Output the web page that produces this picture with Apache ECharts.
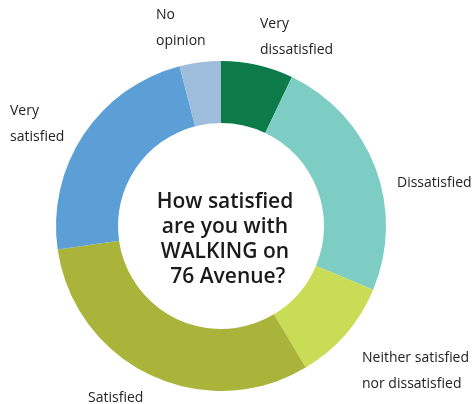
<!DOCTYPE html>
<html>
<head>
<meta charset="utf-8">
<script src="https://cdn.jsdelivr.net/npm/echarts@6/dist/echarts.min.js"></script>
<style>
  html, body { margin: 0; padding: 0; background: #fff; }
  #main { width: 476px; height: 404px; }
</style>
</head>
<body>
<div id="main"></div>
<script>
var categories = ['Very\ndissatisfied', 'Dissatisfied', 'Neither satisfied\nnor dissatisfied', 'Satisfied', 'Very\nsatisfied', 'No\nopinion'];
var shares = [7, 24, 10, 31, 23, 4];
var colors = ['#0d7a4a', '#7ecdc4', '#c9dc55', '#aab43a', '#5c9fd6', '#9ebcdc'];
// where each label sits (left edge, vertical middle)
var labelSpots = [[260, 37], [397, 183], [362, 371], [88, 398], [10, 124], [156, 28]];

var chart = echarts.init(document.getElementById('main'));

var option = {
  title: {
    text: 'How satisfied\nare you with\nWALKING on\n 76 Avenue?',
    left: 220,
    top: 185,
    textAlign: 'center',
    textStyle: {
      fontFamily: 'Open Sans',
      fontSize: 21,
      fontWeight: 600,
      color: '#1a1a1a',
      lineHeight: 25
    }
  },
  series: [{
    type: 'pie',
    center: [221, 226],
    radius: [103, 165],
    startAngle: 90,
    clockwise: true,
    silent: true,
    label: {
      show: true,
      position: 'outside',
      alignTo: 'none',
      overflow: 'none',
      fontFamily: 'Open Sans',
      fontSize: 14,
      lineHeight: 26,
      color: '#222',
      formatter: '{b}'
    },
    labelLine: { show: false },
    labelLayout: function (p) {
      var s = labelSpots[p.dataIndex];
      return { x: s[0], y: s[1], align: 'left', verticalAlign: 'middle', hideOverlap: false };
    },
    data: categories.map(function (c, i) {
      return { name: c, value: shares[i], itemStyle: { color: colors[i] } };
    })
  }]
};

chart.setOption(option);
</script>
</body>
</html>
